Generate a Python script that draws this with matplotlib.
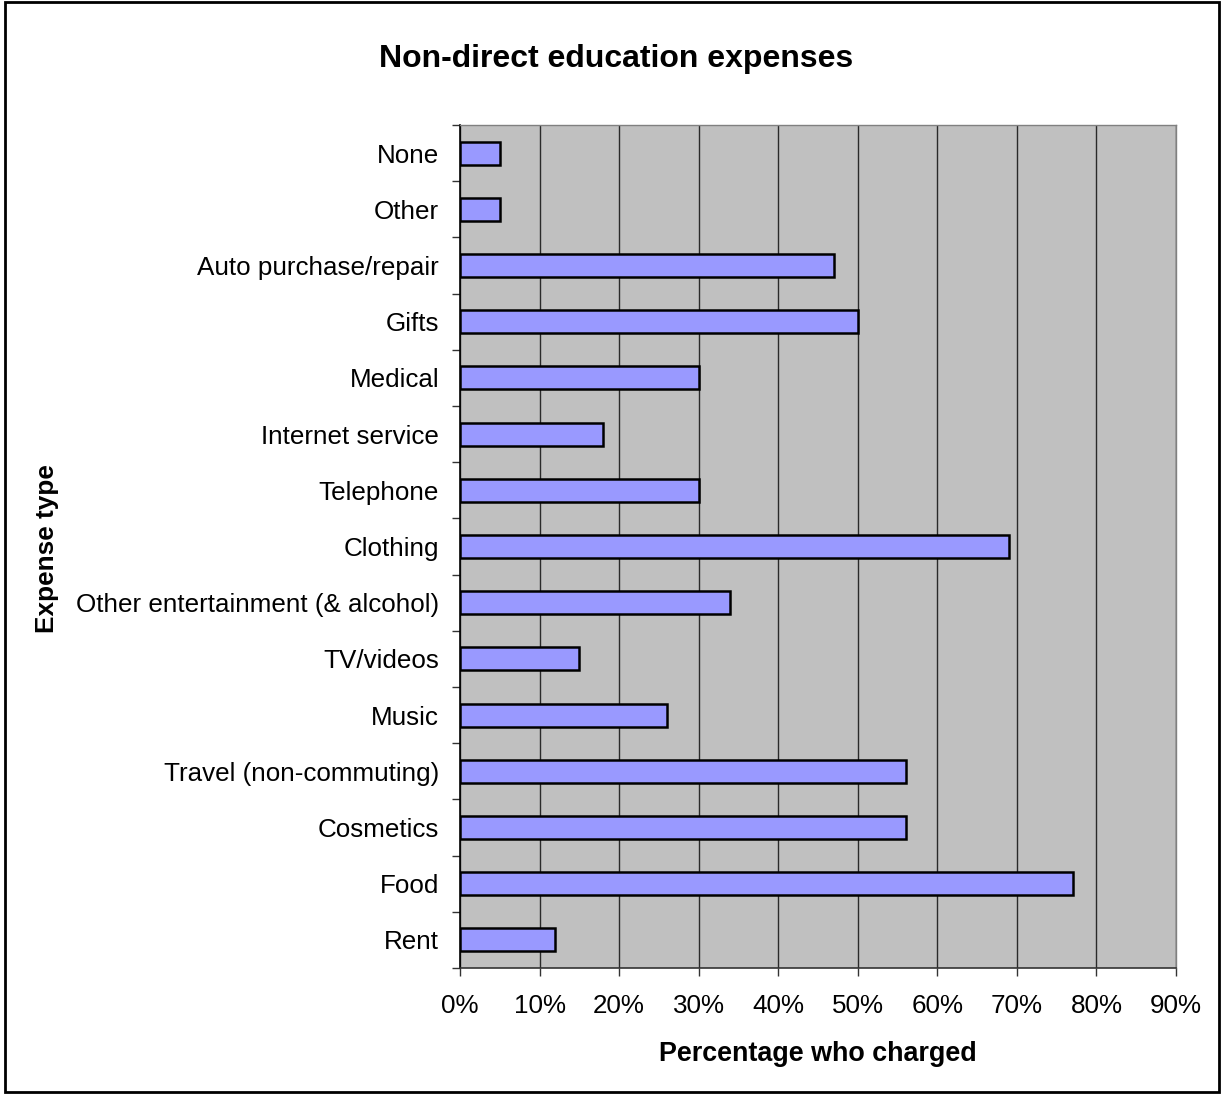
import matplotlib
matplotlib.use("Agg")
import matplotlib.pyplot as plt
from matplotlib.patches import Rectangle
from matplotlib.ticker import FixedLocator, PercentFormatter

plt.rcParams['font.family'] = ['Liberation Sans', 'DejaVu Sans']

categories = ["Rent", "Food", "Cosmetics", "Travel (non-commuting)", "Music", "TV/videos",
              "Other entertainment (& alcohol)", "Clothing", "Telephone", "Internet service",
              "Medical", "Gifts", "Auto purchase/repair", "Other", "None"]
values = [12, 77, 56, 56, 26, 15, 34, 69, 30, 18, 30, 50, 47, 5, 5]
xticks = [0, 10, 20, 30, 40, 50, 60, 70, 80, 90]

fig = plt.figure(figsize=(12.22, 10.95), dpi=100)
ax = fig.add_axes([460/1222, 1-968/1095, (1176-460)/1222, (968-125)/1095])
ax.set_facecolor('#c0c0c0')

ypos = list(range(len(categories)))
ax.barh(ypos, values, height=0.41, color='#9999ff', edgecolor='black', linewidth=1.8, zorder=3)

ax.set_xlim(0, 90)
ax.set_ylim(-0.5, len(categories) - 0.5)
ax.set_xticks(xticks)
ax.xaxis.set_major_formatter(PercentFormatter(decimals=0))
ax.set_yticks(ypos)
ax.set_yticklabels(categories)
ax.yaxis.set_minor_locator(FixedLocator([i - 0.5 for i in range(len(categories) + 1)]))
ax.tick_params(axis='y', which='major', length=0, pad=15, labelsize=18.7)
ax.tick_params(axis='y', which='minor', length=6, width=1, color='#333333')
ax.tick_params(axis='x', which='major', length=6, width=1, color='#333333', labelsize=18.7, pad=13)

ax.grid(axis='x', color='#2a2a2a', linewidth=1, zorder=1)
ax.set_axisbelow(True)
for s in ['top', 'right']:
    ax.spines[s].set_color('#808080')
    ax.spines[s].set_linewidth(1)
ax.spines['left'].set_color('black')
ax.spines['bottom'].set_color('#333333')
ax.spines['left'].set_linewidth(1.2)
ax.spines['bottom'].set_linewidth(1.2)

ax.set_xlabel('Percentage who charged', fontsize=19.4, fontweight='bold', labelpad=16)
fig.text(47/1222, 1-(549/1095), 'Expense type', rotation=90, fontsize=18.8, fontweight='bold',
         ha='center', va='center')
fig.text(616/1222, 1-59/1095, 'Non-direct education expenses', fontsize=23, fontweight='bold',
         ha='center', va='center')

fig.patches.append(Rectangle((5/1222, 3/1095), 1214/1222, 1090/1095, transform=fig.transFigure,
                             fill=False, edgecolor='black', linewidth=2))

fig.savefig('out.png', dpi=100)
